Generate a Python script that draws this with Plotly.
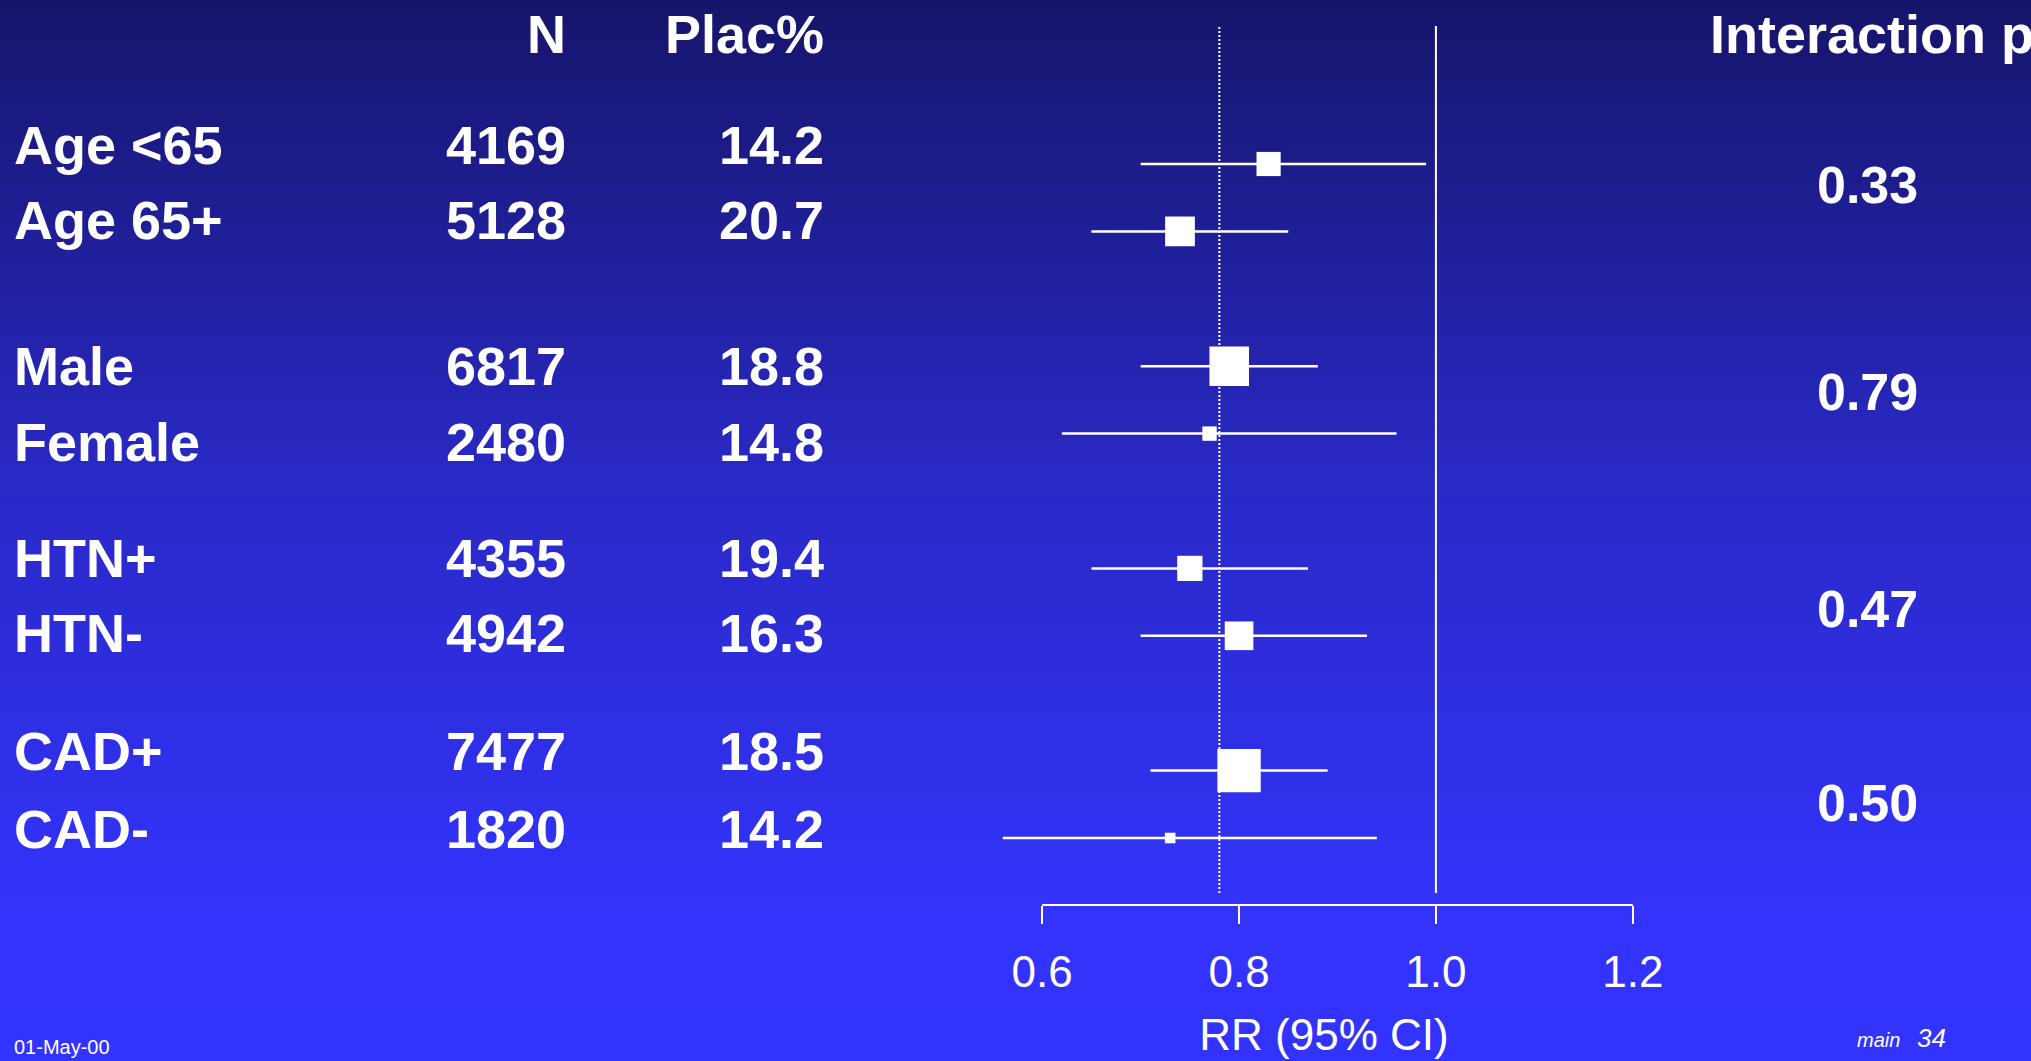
import plotly.graph_objects as go

# ---------------- data ----------------
labels = ["Age <65", "Age 65+", "Male", "Female", "HTN+", "HTN-", "CAD+", "CAD-"]
n_vals = [4169, 5128, 6817, 2480, 4355, 4942, 7477, 1820]
plac_pct = ["14.2", "20.7", "18.8", "14.8", "19.4", "16.3", "18.5", "14.2"]
rr = [0.83, 0.74, 0.79, 0.77, 0.75, 0.80, 0.80, 0.73]
ci_lo = [0.70, 0.65, 0.70, 0.62, 0.65, 0.70, 0.71, 0.56]
ci_hi = [0.99, 0.85, 0.88, 0.96, 0.87, 0.93, 0.89, 0.94]
p_interaction = ["0.33", "0.79", "0.47", "0.50"]
overall_rr = 0.78
null_rr = 1.0
tick_vals = [0.6, 0.8, 1.0, 1.2]
tick_text = ["0.6", "0.8", "1.0", "1.2"]
headers = ["N", "Plac%", "Interaction p"]
x_title = "RR (95% CI)"
footer_date = "01-May-00"
footer_main = "main"
footer_page = "34"

# ---------------- layout constants (pixels) ----------------
W, H = 2031, 1061
FONT = "Liberation Sans, Arial, sans-serif"
ROW0_PX, ROW_STEP = 164.0, 67.4
PLOT_TOP_PX, PLOT_BOT_PX = 26.0, 905.0
LINE_BOT_PX = 893.0
X06_PX, PX_PER_UNIT = 1042.2, 984.3
XDOM_L_PX, XDOM_R_PX = 948.0, 1700.0

def py(px):
    return 1 - px / H

def px_x(px):
    return px / W

def row_units(px):
    return (px - ROW0_PX) / ROW_STEP

# row positions: two rows per group, one blank row between groups
pos = [3 * (i // 2) + i % 2 for i in range(len(labels))]

fig = go.Figure()

# CI lines
cx, cy = [], []
for lo, hi, p in zip(ci_lo, ci_hi, pos):
    cx += [lo, hi, None]
    cy += [p, p, None]
fig.add_trace(go.Scatter(x=cx, y=cy, mode="lines",
                         line=dict(color="white", width=2.5),
                         hoverinfo="skip", showlegend=False))

# point estimates (square size proportional to N)
fig.add_trace(go.Scatter(x=rr, y=pos, mode="markers",
                         marker=dict(symbol="square", color="white", opacity=1,
                                     size=[0.0058 * n for n in n_vals],
                                     line=dict(width=0)),
                         showlegend=False))

shapes = []
# background gradient stripes
stops = [(0.0, (22, 21, 107)), (0.45, (41, 41, 198)), (0.85, (51, 51, 250)), (1.0, (51, 51, 255))]

def grad(t):
    for (t0, c0), (t1, c1) in zip(stops[:-1], stops[1:]):
        if t <= t1:
            f = (t - t0) / (t1 - t0)
            return tuple(round(a + (b - a) * f) for a, b in zip(c0, c1))
    return stops[-1][1]

NS = 212
for i in range(NS):
    t = (i + 0.5) / NS
    c = grad(t)
    shapes.append(dict(type="rect", xref="paper", yref="paper", layer="below",
                       x0=0, x1=1, y0=1 - (i + 1) / NS - 0.001, y1=1 - i / NS,
                       fillcolor="rgb(%d,%d,%d)" % c, line=dict(width=0)))

# reference lines
shapes.append(dict(type="line", xref="x", yref="paper", x0=overall_rr, x1=overall_rr,
                   y0=py(LINE_BOT_PX), y1=py(PLOT_TOP_PX),
                   line=dict(color="white", width=2, dash="2px,2px")))
shapes.append(dict(type="line", xref="x", yref="paper", x0=null_rr, x1=null_rr,
                   y0=py(LINE_BOT_PX), y1=py(PLOT_TOP_PX),
                   line=dict(color="white", width=2)))
# axis line between first and last tick
shapes.append(dict(type="line", xref="x", yref="paper", x0=tick_vals[0], x1=tick_vals[-1],
                   y0=py(PLOT_BOT_PX), y1=py(PLOT_BOT_PX),
                   line=dict(color="white", width=2)))

# ---------------- text ----------------
ann = []
BIG = 54
row_text_px = [145, 220, 366.5, 441.6, 558, 633, 751, 829]
p_text_px = [185, 392, 609, 803]
HEAD_PX = 34

def txt(s, x_px, y_px, anchor, size=BIG, bold=True, italic=False):
    t = "<b>%s</b>" % s if bold else s
    if italic:
        t = "<i>%s</i>" % t
    ann.append(dict(text=t, x=px_x(x_px), y=py(y_px), xref="paper", yref="paper",
                    xanchor=anchor, yanchor="middle", showarrow=False,
                    font=dict(family=FONT, size=size, color="white")))

txt(headers[0], 568, HEAD_PX, "right")
txt(headers[1], 826, HEAD_PX, "right")
txt(headers[2], 1708, HEAD_PX, "left")
for lab, n, pc, ypx in zip(labels, n_vals, plac_pct, row_text_px):
    txt(lab, 12, ypx, "left")
    txt(str(n), 568, ypx, "right")
    txt(pc, 826, ypx, "right")
for pv, ypx in zip(p_interaction, p_text_px):
    txt(pv, 1867, ypx, "center", size=52)

txt(footer_date, 12, 1047, "left", size=20, bold=False)
txt(footer_main, 1855, 1040, "left", size=20, bold=False, italic=True)
txt(footer_page, 1915, 1038, "left", size=26, bold=False, italic=True)

x_lo = 0.6 - (X06_PX - XDOM_L_PX) / PX_PER_UNIT
x_hi = 0.6 + (XDOM_R_PX - X06_PX) / PX_PER_UNIT

fig.update_layout(
    width=W, height=H, autosize=False,
    margin=dict(l=0, r=0, t=0, b=0),
    paper_bgcolor="rgb(22,21,107)",
    plot_bgcolor="rgba(0,0,0,0)",
    shapes=shapes, annotations=ann,
    xaxis=dict(domain=[px_x(XDOM_L_PX), px_x(XDOM_R_PX)], range=[x_lo, x_hi],
               tickvals=tick_vals, ticktext=tick_text,
               ticks="outside", ticklen=18, tickwidth=2, tickcolor="white",
               ticklabelstandoff=10,
               tickfont=dict(family=FONT, size=44, color="white"),
               showline=False, showgrid=False, zeroline=False,
               title=dict(text=x_title, font=dict(family=FONT, size=44, color="white"),
                          standoff=24)),
    yaxis=dict(domain=[py(PLOT_BOT_PX), py(PLOT_TOP_PX)],
               range=[row_units(PLOT_BOT_PX), row_units(PLOT_TOP_PX)],
               showticklabels=False, showline=False, showgrid=False, zeroline=False,
               ticks=""),
    showlegend=False,
)

fig.write_html("out.html", config={"displayModeBar": False},
               post_script="document.body.style.margin='0';document.body.style.overflow='hidden';")
